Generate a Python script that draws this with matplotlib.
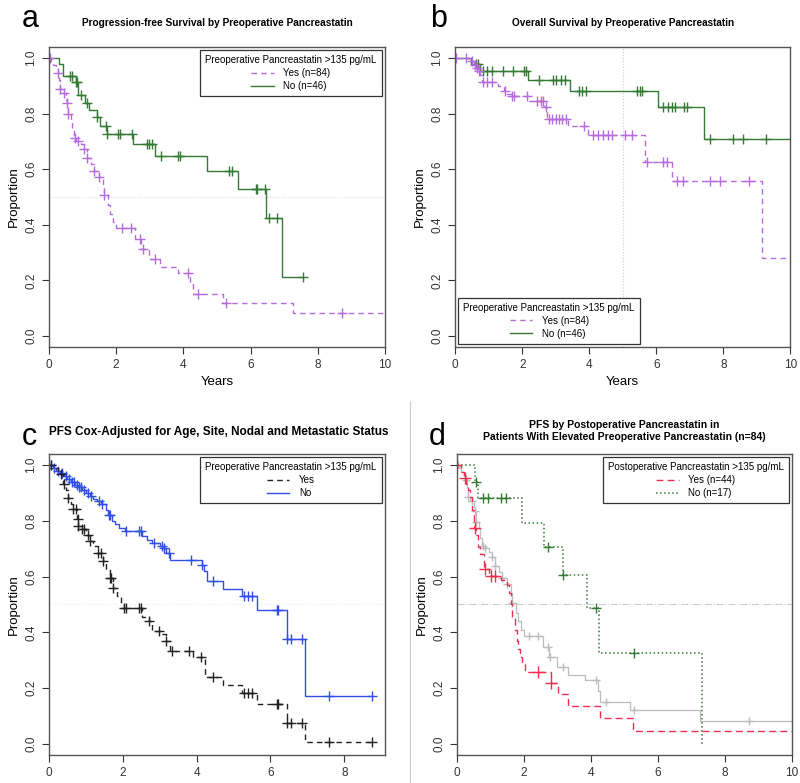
import numpy as np
import matplotlib.pyplot as plt
from matplotlib.lines import Line2D

plt.rcParams['font.family'] = ['Liberation Sans', 'DejaVu Sans']

# ---- panel a: PFS by preoperative pancreastatin ----
a_yes_t = [0.05, 0.12, 0.2, 0.26, 0.3, 0.33, 0.4, 0.5, 0.54, 0.58, 0.65, 0.7, 0.75, 0.8, 0.95,
           1.05, 1.13, 1.25, 1.35, 1.49, 1.6, 1.65, 1.75, 1.82, 1.9, 2.0, 2.56, 2.75, 2.99,
           3.3, 3.83, 4.2, 4.28, 5.17, 7.25]
a_yes_s = [0.988, 0.976, 0.964, 0.947, 0.92, 0.887, 0.873, 0.85, 0.837, 0.797, 0.77, 0.74, 0.711,
           0.703, 0.69, 0.672, 0.639, 0.617, 0.595, 0.573, 0.54, 0.507, 0.47, 0.44, 0.41, 0.387,
           0.348, 0.312, 0.276, 0.247, 0.228, 0.19, 0.15, 0.12, 0.082]
a_yes_cens = [0.03, 0.26, 0.33, 0.46, 0.54, 0.58, 0.77, 0.85, 1.05, 1.13, 1.35, 1.49, 1.65,
              2.16, 2.43, 2.71, 2.79, 3.17, 4.15, 4.44, 5.27, 8.71]
a_yes_end = 10

a_no_t = [0.31, 0.41, 0.80, 0.85, 1.07, 1.2, 1.42, 1.52, 1.72, 2.49, 3.17, 4.69, 5.62, 6.45, 6.94]
a_no_s = [0.978, 0.935, 0.913, 0.867, 0.84, 0.813, 0.787, 0.755, 0.727, 0.69, 0.649, 0.595,
          0.529, 0.423, 0.213]
a_no_cens = [0.62, 0.70, 0.80, 0.84, 0.94, 1.14, 1.42, 1.70, 1.72, 2.04, 2.12, 2.48, 2.91, 2.98,
             3.06, 3.32, 3.83, 3.9, 5.37, 5.46, 6.16, 6.2, 6.43, 6.54, 6.8, 7.55]
a_no_end = 7.55

# ---- panel b: OS by preoperative pancreastatin ----
b_yes_t = [0.42, 0.55, 0.62, 0.68, 0.75, 0.8, 1.28, 1.45, 1.56, 1.68, 2.2, 2.65, 2.75, 3.37,
           3.95, 5.66, 6.48, 9.15]
b_yes_s = [0.988, 0.976, 0.964, 0.952, 0.94, 0.915, 0.9, 0.882, 0.872, 0.864, 0.846, 0.825,
           0.78, 0.755, 0.723, 0.627, 0.558, 0.28]
b_yes_cens = [0.02, 0.32, 0.5, 0.6, 0.66, 0.72, 0.82, 0.94, 1.1, 1.5, 1.68, 1.75, 2.13, 2.45,
              2.55, 2.62, 2.7, 2.8, 2.9, 3.0, 3.1, 3.2, 3.3, 3.85, 4.12, 4.27, 4.42, 4.57,
              4.67, 5.07, 5.27, 5.71, 6.21, 6.31, 6.61, 6.81, 7.6, 7.9, 8.75]
b_yes_end = 10

b_no_t = [0.47, 0.74, 2.17, 3.43, 6.04, 7.43]
b_no_s = [0.978, 0.953, 0.921, 0.882, 0.825, 0.707]
b_no_cens = [0.62, 0.69, 0.82, 0.94, 1.1, 1.42, 1.72, 2.04, 2.12, 2.5, 2.93, 3.01, 3.16, 3.28,
             3.68, 3.79, 3.89, 5.43, 5.51, 5.58, 6.21, 6.36, 6.46, 6.56, 6.83, 6.91, 7.6, 8.3,
             8.6, 9.27]
b_no_end = 10

# ---- panel c: Cox-adjusted PFS ----
c_yes_t = [0.15, 0.25, 0.33, 0.39, 0.45, 0.52, 0.6, 0.66, 0.75, 0.79, 0.9, 1.01, 1.1, 1.2, 1.33,
           1.46, 1.55, 1.64, 1.73, 1.85, 1.95, 2.04, 2.51, 2.71, 2.78, 3.05, 3.17, 3.28, 3.9,
           4.23, 4.71, 5.22, 5.63, 6.46, 6.94]
c_yes_s = [0.99, 0.975, 0.967, 0.931, 0.91, 0.883, 0.86, 0.841, 0.805, 0.781, 0.77, 0.751,
           0.727, 0.71, 0.685, 0.655, 0.625, 0.595, 0.559, 0.53, 0.505, 0.487, 0.454, 0.439,
           0.406, 0.394, 0.369, 0.333, 0.312, 0.238, 0.211, 0.184, 0.142, 0.075, 0.008]
c_yes_cens = [0.05, 0.33, 0.4, 0.52, 0.66, 0.72, 0.78, 0.8, 0.9, 0.95, 1.05, 1.1, 1.33, 1.42,
              1.46, 1.64, 1.68, 1.73, 2.04, 2.1, 2.43, 2.48, 2.71, 2.99, 3.17, 3.33, 3.8, 4.12,
              4.45, 5.27, 5.4, 5.51, 6.17, 6.2, 6.46, 6.55, 6.85, 7.59, 8.76]
c_yes_end = 8.76

c_no_t = [0.1, 0.2, 0.3, 0.4, 0.5, 0.6, 0.7, 0.8, 0.9, 1.0, 1.1, 1.2, 1.3, 1.42, 1.55, 1.6, 1.7,
          1.8, 1.9, 2.05, 2.52, 2.65, 2.8, 3.0, 3.07, 3.16, 3.28, 4.14, 4.2, 4.28, 4.71, 5.22,
          5.63, 6.46, 6.94]
c_no_s = [0.99, 0.98, 0.97, 0.96, 0.95, 0.94, 0.93, 0.92, 0.91, 0.9, 0.89, 0.88, 0.87, 0.86,
          0.84, 0.82, 0.8, 0.787, 0.775, 0.763, 0.745, 0.733, 0.721, 0.71, 0.703, 0.685, 0.661,
          0.643, 0.62, 0.583, 0.556, 0.531, 0.481, 0.376, 0.172]
c_no_cens = [0.05, 0.15, 0.25, 0.35, 0.45, 0.55, 0.62, 0.68, 0.75, 0.82, 0.88, 0.95, 1.05, 1.15,
             1.35, 1.45, 1.62, 1.65, 2.1, 2.45, 2.5, 2.85, 3.05, 3.12, 3.25, 3.84, 4.14, 4.43,
             5.27, 5.4, 5.51, 6.17, 6.2, 6.46, 6.55, 6.85, 7.59, 8.76]
c_no_end = 8.76

# ---- panel d: PFS by postoperative pancreastatin (elevated preop) ----
d_yes_t = [0.12, 0.2, 0.28, 0.34, 0.4, 0.45, 0.5, 0.57, 0.62, 0.7, 0.8, 0.95, 1.3, 1.48, 1.55,
           1.6, 1.65, 1.72, 1.78, 1.83, 1.88, 1.95, 2.02, 2.8, 3.02, 3.32, 4.27, 5.26]
d_yes_s = [0.977, 0.955, 0.932, 0.909, 0.886, 0.84, 0.773, 0.75, 0.705, 0.682, 0.628, 0.603,
           0.588, 0.57, 0.54, 0.5, 0.455, 0.41, 0.37, 0.34, 0.31, 0.285, 0.256, 0.22, 0.18,
           0.137, 0.094, 0.047]
d_yes_cens = [0.23, 0.53, 0.83, 1.03, 1.12, 2.42, 2.82]
d_yes_end = 10

d_no_t = [0.55, 0.63, 1.95, 2.6, 3.17, 3.87, 4.24, 7.31]
d_no_s = [0.941, 0.882, 0.793, 0.706, 0.607, 0.489, 0.327, 0.0]
d_no_cens = [0.58, 0.77, 0.92, 1.32, 1.47, 2.72, 3.17, 4.14, 5.29]
d_no_end = 7.31

PURPLE = '#b76be0'
GREEN = '#357a35'
BLUE = '#2f4fe6'
RED = '#ee2f4f'
GRAY = '#bdbdbd'
LEG_TITLE = 'Preoperative Pancreastatin >135 pg/mL'


def surv_at(t, s, x):
    idx = np.searchsorted(np.array(t), np.array(x), side='right')
    full = np.concatenate([[1.0], s])
    return full[idx]


def km(ax, t, s, cens, end, color, ls, lw=1.0, dashes=None, ms=7):
    xs = np.concatenate([[0.0], t, [end]])
    ys = np.concatenate([[1.0], s, [s[-1]]])
    line, = ax.step(xs, ys, where='post', color=color, lw=lw, ls=ls)
    if dashes is not None:
        line.set_dashes(dashes)
    ax.plot(cens, surv_at(t, s, cens), ls='none', marker='+', color=color, ms=ms, mew=1.0)


def style(ax, xmax, xticks):
    ax.set_xlim(0, xmax)
    ax.set_ylim(-0.04, 1.04)
    ax.set_yticks([0.0, 0.2, 0.4, 0.6, 0.8, 1.0])
    ax.set_yticklabels(['0.0', '0.2', '0.4', '0.6', '0.8', '1.0'], rotation=90, va='center')
    ax.set_xticks(xticks)
    ax.tick_params(labelsize=8.5, colors='#333333', length=5, width=0.8)
    for sp in ax.spines.values():
        sp.set_color('#555555')
        sp.set_linewidth(1.0)
    ax.set_ylabel('Proportion', fontsize=9.5, labelpad=4)


def legend(ax, handles, labels, title, loc, anchor):
    leg = ax.legend(handles, labels, title=title, loc=loc, bbox_to_anchor=anchor,
                    fontsize=7.0, title_fontsize=7.0, fancybox=False, edgecolor='#333333',
                    framealpha=1, alignment='center', handlelength=2.3, borderpad=0.55,
                    labelspacing=0.3, handletextpad=1.0, borderaxespad=0.3)
    leg.get_frame().set_linewidth(0.9)


fig = plt.figure(figsize=(8, 7.83), dpi=100)

# panel a
ax = fig.add_axes([0.0612, 0.5568, 0.42, 0.3832])
ax.axhline(0.5, color='#dddddd', lw=0.8, ls=':')
km(ax, a_no_t, a_no_s, a_no_cens, a_no_end, GREEN, '-')
km(ax, a_yes_t, a_yes_s, a_yes_cens, a_yes_end, PURPLE, '--', dashes=(4, 3))
style(ax, 10, [0, 2, 4, 6, 8, 10])
ax.set_xlabel('Years', fontsize=9.5)
legend(ax, [Line2D([], [], color=PURPLE, ls='--', lw=1, dashes=(4, 3)),
            Line2D([], [], color=GREEN, lw=1)],
       ['Yes (n=84)', 'No (n=46)'], LEG_TITLE, 'upper right', (1.0, 1.0))
ax.set_title('Progression-free Survival by Preoperative Pancreastatin', fontsize=7.3,
             fontweight='bold', pad=15)

# panel b
ax = fig.add_axes([0.5690, 0.5568, 0.4190, 0.3832])
ax.axvline(5, color='#cccccc', lw=0.8, ls=':')
km(ax, b_no_t, b_no_s, b_no_cens, b_no_end, GREEN, '-')
km(ax, b_yes_t, b_yes_s, b_yes_cens, b_yes_end, PURPLE, '--', dashes=(4, 3))
style(ax, 10, [0, 2, 4, 6, 8, 10])
ax.set_xlabel('Years', fontsize=9.5)
legend(ax, [Line2D([], [], color=PURPLE, ls='--', lw=1, dashes=(4, 3)),
            Line2D([], [], color=GREEN, lw=1)],
       ['Yes (n=84)', 'No (n=46)'], LEG_TITLE, 'lower left', (0.0, 0.0))
ax.set_title('Overall Survival by Preoperative Pancreastatin', fontsize=7.2,
             fontweight='bold', pad=15)

# panel c
ax = fig.add_axes([0.0612, 0.0358, 0.42, 0.3844])
ax.axhline(0.5, color='#eeeeee', lw=0.8, ls=':')
km(ax, c_no_t, c_no_s, c_no_cens, c_no_end, BLUE, '-')
km(ax, c_yes_t, c_yes_s, c_yes_cens, c_yes_end, '#222222', '--', dashes=(4, 3))
style(ax, 9.1, [0, 2, 4, 6, 8])
legend(ax, [Line2D([], [], color='#222222', ls='--', lw=1, dashes=(4, 3)),
            Line2D([], [], color=BLUE, lw=1)],
       ['Yes', 'No'], LEG_TITLE, 'upper right', (1.0, 1.0))
ax.set_title('PFS Cox-Adjusted for Age, Site, Nodal and Metastatic Status', fontsize=8.5,
             fontweight='bold', pad=14, loc='left', x=0.0)

# panel d
ax = fig.add_axes([0.5712, 0.0358, 0.4190, 0.3844])
ax.axhline(0.5, color='#cccccc', lw=0.8, ls='-.')
km(ax, a_yes_t, a_yes_s, a_yes_cens, a_yes_end, GRAY, '-', lw=0.9, ms=6)
km(ax, d_no_t, d_no_s, d_no_cens, d_no_end, GREEN, ':', lw=1.1)
km(ax, d_yes_t, d_yes_s, d_yes_cens, d_yes_end, RED, '--', dashes=(5, 3), ms=8)
style(ax, 10, [0, 2, 4, 6, 8, 10])
legend(ax, [Line2D([], [], color=RED, ls='--', lw=1, dashes=(5, 3)),
            Line2D([], [], color=GREEN, ls=':', lw=1.1)],
       ['Yes (n=44)', 'No (n=17)'], 'Postoperative Pancreastatin >135 pg/mL',
       'upper right', (1.0, 1.0))
ax.set_title('PFS by Postoperative Pancreastatin in\n'
             'Patients With Elevated Preoperative Pancreastatin (n=84)', fontsize=7.5,
             fontweight='bold', pad=10, linespacing=1.2)

# panel letters
fig.text(0.027, 0.965, 'a', fontsize=22, va='baseline', ha='left')
fig.text(0.537, 0.966, 'b', fontsize=22, va='baseline', ha='left')
fig.text(0.027, 0.432, 'c', fontsize=22, va='baseline', ha='left')
fig.text(0.536, 0.432, 'd', fontsize=22, va='baseline', ha='left')

# thin separator
fig.add_artist(Line2D([0.512, 0.512], [0.0, 0.488], color='#cccccc', lw=0.8))

fig.savefig('out.png', dpi=100)
